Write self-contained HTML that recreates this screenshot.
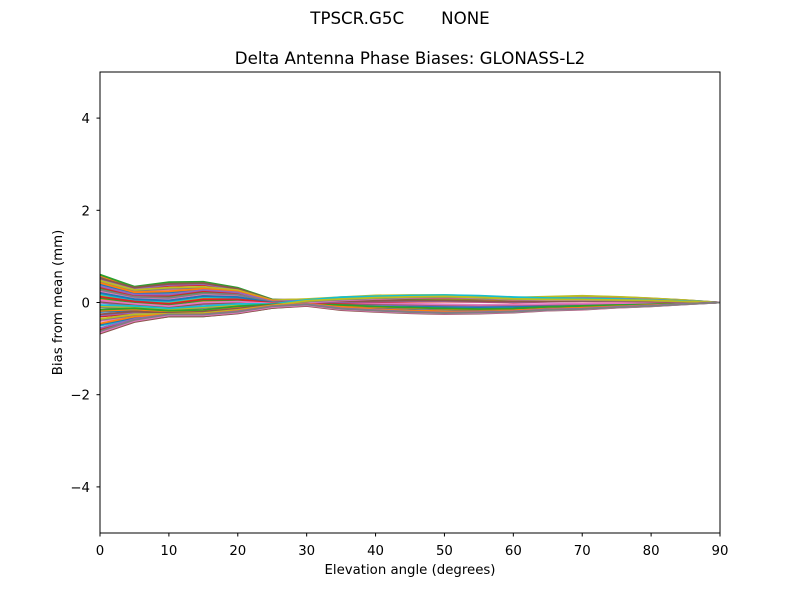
<!DOCTYPE html>
<html><head><meta charset="utf-8"><style>
body{margin:0;background:#fff;font-family:"Liberation Sans","DejaVu Sans",sans-serif}
</style></head><body>
<svg id="chart" width="800" height="600" xmlns="http://www.w3.org/2000/svg" font-family="'DejaVu Sans','Liberation Sans',sans-serif">
<rect width="800" height="600" fill="#fff"/>
<text x="400" y="24" font-size="16.67" text-anchor="middle" style="white-space:pre" xml:space="preserve">TPSCR.G5C       NONE</text>
<text x="410" y="64" font-size="16.67" text-anchor="middle">Delta Antenna Phase Biases: GLONASS-L2</text>
<g id="lines"></g>
<rect x="100" y="72" width="620" height="461" fill="none" stroke="#000" stroke-width="1"/>
<g id="axes"></g>
<text x="410" y="574" font-size="13.3" text-anchor="middle">Elevation angle (degrees)</text>
<text transform="translate(62,302.5) rotate(-90)" font-size="13.3" text-anchor="middle">Bias from mean (mm)</text>
</svg>
<script>
const elevations=[0,5,10,15,20,25,30,35,40,45,50,55,60,65,70,75,80,85,90];
const xTicks=[0,10,20,30,40,50,60,70,80,90];
const yTicks=[-4,-2,0,2,4];
const yTickLabels=["\u22124","\u22122","0","2","4"];
const s1=[0.58,0.32,0.42,0.43,0.30,0.05,0.02,-0.05,-0.08,-0.10,-0.12,-0.10,-0.08,-0.05,-0.04,-0.03,-0.02,-0.01,0];
const s2=[0.50,0.30,0.38,0.40,0.28,0.04,0.05,0.08,0.10,0.12,0.13,0.11,0.08,0.10,0.12,0.11,0.08,0.04,0];
const s3=[0.45,0.25,0.30,0.32,0.25,0.03,0.06,0.10,0.14,0.15,0.15,0.13,0.10,0.12,0.14,0.12,0.09,0.05,0];
const s4=[0.40,0.20,0.22,0.28,0.22,0.02,-0.02,-0.10,-0.15,-0.18,-0.20,-0.20,-0.18,-0.12,-0.10,-0.08,-0.06,-0.03,0];
const s5=[0.33,0.15,0.15,0.25,0.20,0.00,0.03,0.05,0.07,0.09,0.10,0.08,0.05,0.07,0.09,0.08,0.06,0.03,0];
const s6=[0.25,0.10,0.08,0.18,0.15,-0.01,0.00,0.02,0.03,0.04,0.05,0.04,0.02,0.03,0.05,0.04,0.03,0.02,0];
const s7=[0.18,0.05,0.02,0.12,0.10,-0.02,-0.02,-0.04,-0.06,-0.08,-0.10,-0.11,-0.10,-0.08,-0.06,-0.05,-0.04,-0.02,0];
const s8=[0.10,0.00,-0.05,0.05,0.05,-0.03,0.01,0.04,0.06,0.08,0.09,0.08,0.06,0.05,0.06,0.06,0.04,0.02,0];
const s9=[0.02,-0.05,-0.10,-0.02,0.00,-0.04,-0.01,-0.02,-0.03,-0.04,-0.05,-0.06,-0.05,-0.04,-0.03,-0.02,-0.02,-0.01,0];
const s10=[-0.08,-0.10,-0.15,-0.10,-0.05,-0.05,0.04,0.10,0.12,0.14,0.15,0.14,0.11,0.09,0.08,0.07,0.05,0.03,0];
const s11=[-0.18,-0.15,-0.20,-0.18,-0.10,-0.06,-0.03,-0.07,-0.10,-0.12,-0.14,-0.15,-0.14,-0.10,-0.08,-0.06,-0.04,-0.02,0];
const s12=[-0.28,-0.22,-0.25,-0.22,-0.15,-0.07,0.00,0.01,0.02,0.03,0.03,0.02,0.01,0.02,0.03,0.03,0.02,0.01,0];
const s13=[-0.38,-0.28,-0.27,-0.25,-0.18,-0.08,0.02,0.06,0.09,0.11,0.12,0.10,0.07,0.06,0.06,0.05,0.04,0.02,0];
const s14=[-0.48,-0.33,-0.28,-0.27,-0.20,-0.09,-0.04,-0.12,-0.16,-0.20,-0.22,-0.21,-0.18,-0.15,-0.12,-0.09,-0.06,-0.03,0];
const s15=[-0.58,-0.38,-0.28,-0.28,-0.21,-0.10,-0.05,-0.14,-0.18,-0.21,-0.23,-0.22,-0.20,-0.16,-0.14,-0.10,-0.07,-0.03,0];
const s16=[-0.65,-0.40,-0.28,-0.28,-0.22,-0.10,-0.06,-0.15,-0.19,-0.22,-0.24,-0.23,-0.21,-0.17,-0.15,-0.11,-0.08,-0.04,0];
const seriesList=[s1,s2,s3,s4,s5,s6,s7,s8,s9,s10,s11,s12,s13,s14,s15,s16];
const colors=["#1f77b4","#ff7f0e","#2ca02c","#d62728","#9467bd","#8c564b","#e377c2","#7f7f7f","#bcbd22","#17becf"];
const NS="http://www.w3.org/2000/svg";
function xs(v){return 100+v/90*620;}
function ys(v){return 302.5-v/10*461;}
const g=document.getElementById('lines');
seriesList.forEach((s,i)=>{
  for(let k=0;k<3;k++){
    const p=document.createElementNS(NS,'polyline');
    
    
    const off=(k-1)*0.025;
    p.setAttribute('points',s.map((v,j)=>xs(elevations[j])+','+ys(v+off*(1-elevations[j]/90))).join(' '));
    p.setAttribute('fill','none');
    p.setAttribute('stroke',colors[(i*3+k)%10]);
    p.setAttribute('stroke-width','1.8');
    g.appendChild(p);
  }
});
const a=document.getElementById('axes');
xTicks.forEach(t=>{
  const l=document.createElementNS(NS,'line');
  
  
  l.setAttribute('x1',xs(t));l.setAttribute('x2',xs(t));l.setAttribute('y1',533);l.setAttribute('y2',536.5);l.setAttribute('stroke','#000');
  a.appendChild(l);
  const tx=document.createElementNS(NS,'text');
  
  
  tx.setAttribute('x',xs(t));tx.setAttribute('y',555);tx.setAttribute('font-size','13.3');tx.setAttribute('text-anchor','middle');
  tx.textContent=t;a.appendChild(tx);
});
yTicks.forEach((t,i)=>{
  const l=document.createElementNS(NS,'line');
  
  
  l.setAttribute('x1',96.5);l.setAttribute('x2',100);l.setAttribute('y1',ys(t));l.setAttribute('y2',ys(t));l.setAttribute('stroke','#000');
  a.appendChild(l);
  const tx=document.createElementNS(NS,'text');
  
  
  tx.setAttribute('x',90);tx.setAttribute('y',ys(t)+5);tx.setAttribute('font-size','13.3');tx.setAttribute('text-anchor','end');
  tx.textContent=yTickLabels[i];a.appendChild(tx);
});
</script>
</body></html>
